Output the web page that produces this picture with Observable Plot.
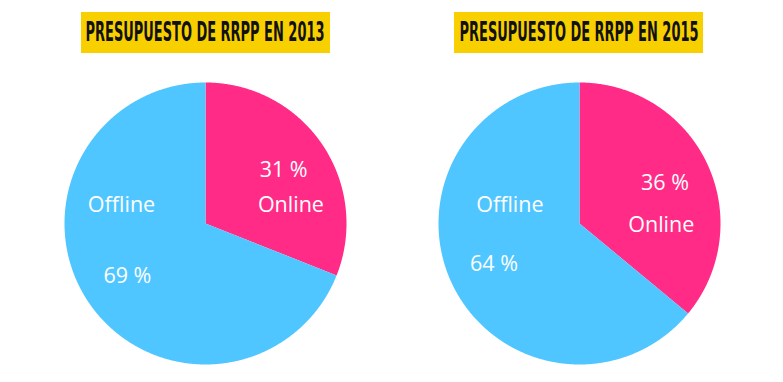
<!DOCTYPE html>
<html>
<head>
<meta charset="utf-8">
<script src="https://cdn.jsdelivr.net/npm/d3@7"></script>
<script src="https://cdn.jsdelivr.net/npm/@observablehq/plot@0.6"></script>
<style>
  html, body { margin: 0; padding: 0; background: #fff; }
  #root { position: relative; width: 783px; height: 382px; overflow: hidden; background: #fff; }
  .title { position: absolute; top: 12px; width: 249px; height: 41px; background: #F8D000; overflow: hidden; }
  .title span { position: absolute; left: 124.5px; top: 3px; white-space: nowrap;
    font-family: "Liberation Sans Narrow", "DejaVu Sans Condensed", sans-serif; font-weight: bold;
    font-size: 27px; line-height: 34px; color: #111; transform-origin: 0 50%; }
  .pie { position: absolute; top: 73px; }
</style>
</head>
<body>
<div id="root"></div>
<script>
// ---- data ----
const years = ["2013", "2015"];
const titles = ["PRESUPUESTO DE RRPP EN 2013", "PRESUPUESTO DE RRPP EN 2015"];
const categories = ["Online", "Offline"];
const shares2013 = [31, 69];
const shares2015 = [36, 64];
const shares = [shares2013, shares2015];

// ---- layout / style ----
const colors = ["#FF2B86", "#4FC6FF"];
const pieCenters = [205, 578.5];
const pieSize = 300;
const radiusInset = 9;
const titleTextWidth = 239;
// where the category name sits (angle in degrees clockwise from 12 o'clock, fraction of radius)
const nameAnchors = [
  [[77.7, 0.62], [282.4, 0.61]],
  [[91.4, 0.58], [284.5, 0.51]]
];
const pctRadius = 0.67;

const root = document.getElementById("root");

years.forEach((year, yi) => {
  // title
  const t = document.createElement("div");
  t.className = "title";
  t.style.left = (pieCenters[yi] - 124.5) + "px";
  const s = document.createElement("span");
  s.textContent = titles[yi];
  t.appendChild(s);
  root.appendChild(t);
  const w = s.getBoundingClientRect().width;
  const k = titleTextWidth / w;
  s.style.transform = `translateX(${-titleTextWidth / 2}px) scaleX(${k})`;

  const values = shares[yi];
  const arcs = d3.pie().sort(null).value(d => d)(values);
  const features = arcs.map((a, i) => {
    const pts = [[0, 0]];
    const n = Math.max(2, Math.ceil((a.endAngle - a.startAngle) / 0.005));
    for (let j = 0; j <= n; j++) {
      const ang = a.startAngle + (a.endAngle - a.startAngle) * j / n;
      pts.push([Math.sin(ang), Math.cos(ang)]);
    }
    pts.push([0, 0]);
    return {type: "Feature", properties: {category: categories[i], value: values[i]},
            geometry: {type: "Polygon", coordinates: [pts]}};
  });
  const pctLabels = arcs.map((a, i) => {
    const mid = (a.startAngle + a.endAngle) / 2;
    return {x: Math.sin(mid) * pctRadius, y: Math.cos(mid) * pctRadius, text: `${values[i]} %`};
  });
  const nameLabels = categories.map((c, i) => {
    const [deg, r] = nameAnchors[yi][i];
    const ang = deg * Math.PI / 180;
    return {x: Math.sin(ang) * r, y: Math.cos(ang) * r, text: c};
  });

  const chart = Plot.plot({
    width: pieSize,
    height: pieSize,
    margin: 0,
    projection: {
      type: "reflect-y",
      domain: {type: "MultiPoint", coordinates: [[-1, -1], [1, 1]]},
      inset: radiusInset
    },
    color: {domain: categories, range: colors},
    style: {background: "transparent", overflow: "visible"},
    marks: [
      Plot.geo(features, {fill: d => d.properties.category, stroke: "none"}),
      Plot.text(pctLabels, {x: "x", y: "y", text: "text", fill: "white", fontSize: 21.5,
        fontFamily: "Open Sans", textAnchor: "middle", lineAnchor: "middle"}),
      Plot.text(nameLabels, {x: "x", y: "y", text: "text", fill: "white", fontSize: 21.5,
        fontFamily: "Open Sans", textAnchor: "middle", lineAnchor: "middle"})
    ]
  });
  const wrap = document.createElement("div");
  wrap.className = "pie";
  wrap.style.left = (pieCenters[yi] - pieSize / 2) + "px";
  wrap.appendChild(chart);
  root.appendChild(wrap);
});
</script>
</body>
</html>
